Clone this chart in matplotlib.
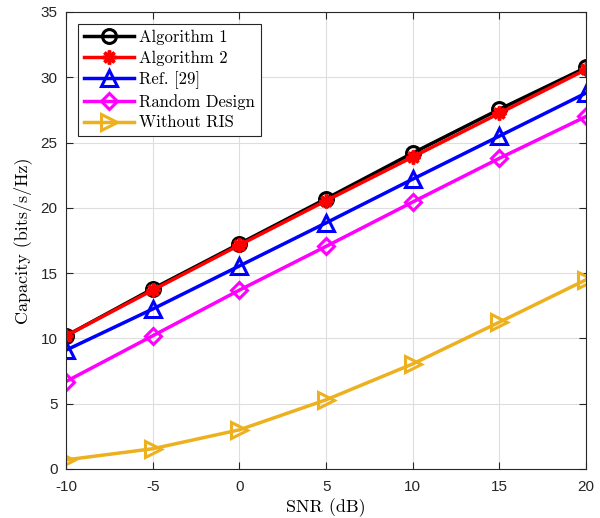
import matplotlib
matplotlib.use("Agg")
import matplotlib.pyplot as plt

snr = [-10, -5, 0, 5, 10, 15, 20]
alg1 = [10.2, 13.8, 17.25, 20.7, 24.2, 27.55, 30.75]
alg2 = [10.2, 13.7, 17.15, 20.55, 23.9, 27.25, 30.6]
ref29 = [9.1, 12.25, 15.55, 18.85, 22.2, 25.5, 28.8]
rand_design = [6.7, 10.2, 13.7, 17.05, 20.45, 23.8, 27.0]
no_ris = [0.7, 1.55, 3.0, 5.3, 8.05, 11.25, 14.5]

labels = ["Algorithm 1", "Algorithm 2", "Ref. [29]", "Random Design", "Without RIS"]
xticks = [-10, -5, 0, 5, 10, 15, 20]
yticks = [0, 5, 10, 15, 20, 25, 30, 35]

fig = plt.figure(figsize=(6.0, 5.18), dpi=100)
ax = fig.add_axes([0.11, 0.0946, 0.867, 0.8823])

lw = 2.5
ms = 10
ax.plot(snr, alg1, color="black", lw=lw, marker="o", ms=ms, mfc="none", mew=2.2, label=labels[0])
ax.plot(snr, alg2, color="red", lw=lw, marker=(8, 2, 0), ms=ms, mfc="none", mew=2.5, label=labels[1])
ax.plot(snr, ref29, color="blue", lw=lw, marker="^", ms=ms + 1, mfc="none", mew=2.2, label=labels[2])
ax.plot(snr, rand_design, color="#FF00FF", lw=lw, marker="D", ms=ms - 1.5, mfc="none", mew=2.2, label=labels[3])
ax.plot(snr, no_ris, color="#EDB120", lw=lw, marker=">", ms=ms + 1, mfc="none", mew=2.2, label=labels[4])

ax.set_xlim(-10, 20)
ax.set_ylim(0, 35)
ax.set_xticks(xticks)
ax.set_yticks(yticks)
ax.set_xticklabels([str(t) for t in xticks], fontfamily="Liberation Sans", fontsize=11)
ax.set_yticklabels([str(t) for t in yticks], fontfamily="Liberation Sans", fontsize=11)
ax.tick_params(direction="in", length=5, top=True, right=True, colors="#262626")
ax.tick_params(axis="x", pad=8)
ax.tick_params(axis="y", pad=6)
ax.grid(True, color="#DEDEDE", lw=0.8)
ax.set_axisbelow(True)
for s in ax.spines.values():
    s.set_color("#262626")
    s.set_linewidth(0.8)

ax.set_xlabel("SNR (dB)", fontfamily="cmr10", fontsize=13, labelpad=3)
ax.set_ylabel("Capacity (bits/s/Hz)", fontfamily="cmr10", fontsize=13, labelpad=6)

leg = ax.legend(loc="upper left", bbox_to_anchor=(0.023, 0.974), prop={"family": "cmr10", "size": 12},
                handlelength=3.0, handletextpad=0.3, labelspacing=0.32, borderpad=0.35,
                fancybox=False, framealpha=1, edgecolor="#262626", borderaxespad=0)
leg.get_frame().set_linewidth(0.8)

fig.savefig("out.png", dpi=100)
